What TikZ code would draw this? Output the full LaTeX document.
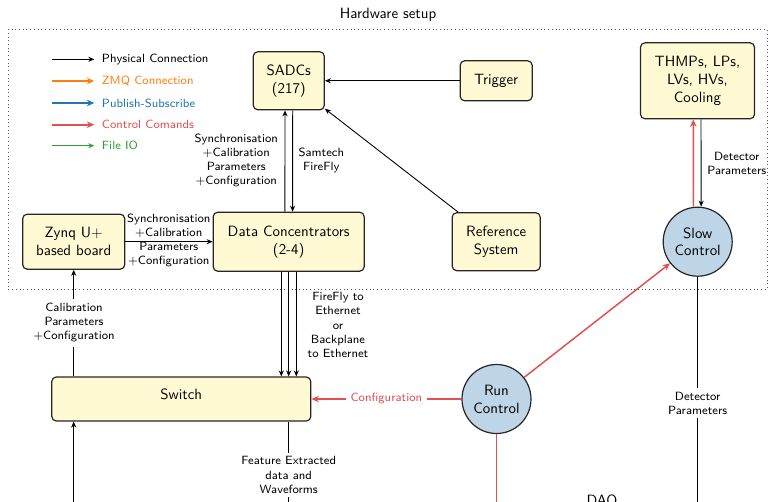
\documentclass[tikz,border=0pt]{standalone}
\usetikzlibrary{arrows.meta}
\renewcommand{\familydefault}{\sfdefault}
\definecolor{boxfill}{RGB}{255,250,212}
\definecolor{circfill}{RGB}{190,213,231}
\definecolor{ctrlred}{RGB}{226,80,82}
\definecolor{zmqorange}{RGB}{255,127,14}
\definecolor{pubblue}{RGB}{31,119,180}
\definecolor{fiogreen}{RGB}{44,160,44}
\newcommand{\PX}[1]{#1*0.671pt}
\begin{document}
\begin{tikzpicture}[x=0.671pt,y=-0.671pt,font=\sffamily,
  box/.style={draw=black!85, fill=boxfill, rounded corners=3pt, line width=0.8pt, align=center, inner sep=0pt},
  circnode/.style={circle, draw=black!85, fill=circfill, line width=0.8pt, minimum size=\PX{69}, inner sep=0pt, align=center},
  phys/.style={-{Stealth[length=4pt,width=3.4pt]}, line width=0.6pt},
  plain/.style={line width=0.6pt},
  ctrl/.style={-{Stealth[length=5pt,width=4.4pt]}, line width=1pt, draw=ctrlred},
  ctrlplain/.style={line width=1pt, draw=ctrlred},
  colarrow/.style={-{Stealth[length=5pt,width=4.4pt]}, line width=1.1pt},
  lbl/.style={font=\sffamily\footnotesize, align=center, inner sep=2.5pt},
  lgd/.style={font=\sffamily\footnotesize, anchor=west, inner sep=0pt}]
\path[use as bounding box, clip] (0,0) rectangle (768,501);

% hardware setup frame
\node[draw=black!65, dotted, line width=0.5pt, minimum width=\PX{758.7}, minimum height=\PX{260}, inner sep=0pt] (hw) at (387.7,159.3) {};
\node (title) at (388,15) {Hardware setup};

% legend
\node[lgd] (lg1) at (101.7,59.3) {Physical Connection};
\node[lgd, text=zmqorange] (lg2) at (101.7,81) {ZMQ Connection};
\node[lgd, text=pubblue] (lg3) at (101.7,103) {Publish-Subscribe};
\node[lgd, text=ctrlred] (lg4) at (101.7,124.7) {Control Comands};
\node[lgd, text=fiogreen] (lg5) at (101.7,145.7) {File IO};
\coordinate (lgs1) at (52.3,59.3);
\coordinate (lgs2) at (52.3,81);
\coordinate (lgs3) at (52.3,103);
\coordinate (lgs4) at (52.3,124.7);
\coordinate (lgs5) at (52.3,145.7);
\draw[phys] (lgs1) -- ([xshift=\PX{-7.4}]lg1.west);
\draw[colarrow, draw=zmqorange] (lgs2) -- ([xshift=\PX{-7.4}]lg2.west);
\draw[colarrow, draw=pubblue] (lgs3) -- ([xshift=\PX{-7.4}]lg3.west);
\draw[colarrow, draw=ctrlred] (lgs4) -- ([xshift=\PX{-7.4}]lg4.west);
\draw[phys, draw=fiogreen] (lgs5) -- ([xshift=\PX{-7.4}]lg5.west);

% nodes
\node[box, minimum width=\PX{71}, minimum height=\PX{58}] (sadc) at (288.8,80.8) {SADCs\\(217)};
\node[box, minimum width=\PX{72}, minimum height=\PX{40}] (trig) at (496.2,80.8) {Trigger};
\node[box, minimum width=\PX{114}, minimum height=\PX{76}] (thmp) at (697.5,80.8) {THMPs, LPs,\\LVs, HVs,\\Cooling};
\node[box, minimum width=\PX{102}, minimum height=\PX{55}] (zynq) at (73.7,241.7) {Zynq U$+$\\based board};
\node[box, minimum width=\PX{151}, minimum height=\PX{59}] (dc) at (288.7,241.7) {Data Concentrators\\(2-4)};
\node[box, minimum width=\PX{88}, minimum height=\PX{58}] (ref) at (496.2,241.7) {Reference\\System};
\node[circnode] (slow) at (697.7,241.7) {Slow\\Control};
\node[box, minimum width=\PX{259}, minimum height=\PX{44}, text depth=6.8pt] (switch) at (181.3,399) {Switch};
\node[circnode] (run) at (496.5,399) {Run\\Control};
\node[anchor=base] (daq) at (602,505) {DAQ};

% off-picture ends
\coordinate (swin) at (73.7,520);
\coordinate (featend) at (288.7,520);
\coordinate (runend) at (496.5,520);
\coordinate (slowend) at (697.7,520);

% physical connections
\draw[phys] (trig) -- (sadc);
\draw[phys] (ref) -- (sadc);
\draw[phys] ([xshift=\PX{-3.8}]dc.north) -- ([xshift=\PX{-3.8}]sadc.south);
\draw[phys] ([xshift=\PX{3.9}]sadc.south) -- ([xshift=\PX{3.9}]dc.north);
\node[lbl, inner sep=0pt] (lsync) at (236.3,160.5) {Synchronisation\\$+$Calibration\\Parameters\\$+$Configuration};
\node[lbl, inner sep=0pt] (lsam) at (321.3,160.5) {Samtech\\FireFly};

\draw[phys] (zynq) -- (dc);
\node[lbl, inner sep=0pt] (lzd) at (168.8,240.7) {Synchronisation\\$+$Calibration\\Parameters\\$+$Configuration};

\draw[phys] (zynq.south |- switch.north) -- (zynq.south);
\node[lbl, fill=white, inner sep=3pt] (lcal) at (74,322.8) {Calibration\\Parameters\\$+$Configuration};
\draw[phys] (swin) -- (zynq.south |- switch.south);

\foreach \dx in {-7.4,0,7.6}
  \draw[phys] ([xshift=\PX{\dx}]dc.south) -- ([xshift=\PX{\dx}]dc.south |- switch.north);
\node[lbl, inner sep=0pt] (lff) at (338,325) {FireFly to\\Ethernet\\or\\Backplane\\to Ethernet};

\draw[plain] (dc.south |- switch.south) -- (featend);
\node[lbl, fill=white] (lfeat) at (288.7,475) {Feature Extracted\\data and\\Waveforms};

% slow control
\draw[ctrl] ([xshift=\PX{-4.2}]slow.north) -- ([xshift=\PX{-4.2}]thmp.south);
\draw[phys] ([xshift=\PX{3.5}]thmp.south) -- ([xshift=\PX{3.5}]slow.north);
\node[lbl, anchor=west, inner sep=0pt] (ldet1) at (707,163) {Detector\\Parameters};
\draw[plain] (slow.south) -- (slowend);
\node[lbl, fill=white] (ldet2) at (697.7,403) {Detector\\Parameters};

% run control
\draw[ctrl] (run) -- (switch) node[midway, lbl, fill=white, text=ctrlred, inner sep=3pt] (lconf) {Configuration};
\draw[ctrl] (run) -- (slow);
\draw[ctrlplain] (run.south) -- (runend);
\end{tikzpicture}
\end{document}
